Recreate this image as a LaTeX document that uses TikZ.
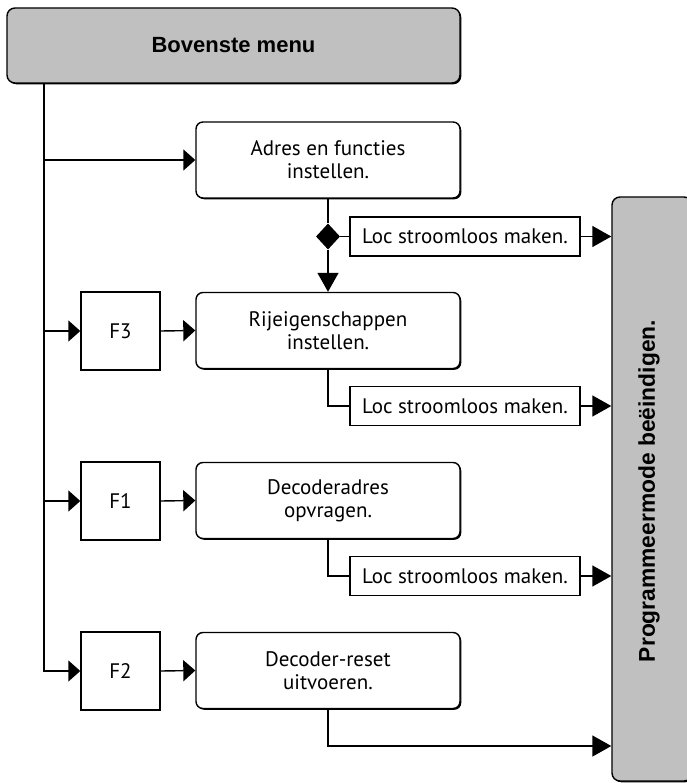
\documentclass[tikz,border=0pt]{standalone}
\usepackage{fontspec}
\setmainfont{PT Sans}
\newfontfamily\normfont{PT Sans}
\newfontfamily\arialfont{Liberation Sans}
\usetikzlibrary{arrows.meta,shadows,shapes.geometric}
\definecolor{boxgray}{HTML}{C0C0C0}
\tikzset{
  conn/.style={line width=1.4pt},
  sarr/.style={conn,-{Triangle[length=12pt,width=21pt]}},
  larr/.style={conn,-{Triangle[length=19pt,width=21pt]}},
  shad/.style={drop shadow={shadow xshift=1.3pt,shadow yshift=-1.3pt,opacity=1,fill=black}},
  rbox/.style={draw,line width=1.4pt,rounded corners=7pt,fill=white,shad,
    minimum width=264pt,minimum height=76pt,inner sep=0pt,align=center,
    font=\normfont\fontsize{21pt}{23pt}\selectfont},
  fbox/.style={draw,line width=1.4pt,fill=white,minimum width=79pt,minimum height=78pt,
    inner sep=0pt,font=\normfont\fontsize{21pt}{23pt}\selectfont},
  locbox/.style={draw,line width=1.4pt,fill=white,minimum width=230pt,minimum height=39pt,
    inner sep=0pt,font=\normfont\fontsize{21pt}{23pt}\selectfont},
  gbox/.style={draw,line width=1.4pt,rounded corners=8pt,fill=boxgray,shad,inner sep=0pt},
  btext/.style={font=\arialfont\bfseries\fontsize{22pt}{24pt}\selectfont},
  vtext/.style={font=\arialfont\bfseries\fontsize{22.8pt}{24pt}\selectfont},
}
\begin{document}
\begin{tikzpicture}[x=1pt,y=-1pt]
\useasboundingbox (0,0) rectangle (686,783);
% boxes
\node[gbox,btext,minimum width=453pt,minimum height=75pt] (top) at (233.5,45.5) {Bovenste menu};
\node[gbox,minimum width=80pt,minimum height=584pt] (prog) at (652,489) {};
\node[vtext,rotate=90] (progtxt) at (649,491) {Programmeermode beëindigen.};

\node[rbox] (adres) at (328,160) {Adres en functies\\instellen.};
\node[rbox] (rij) at (328,330.5) {Rijeigenschappen\\instellen.};
\node[rbox] (dec) at (328,500.5) {Decoderadres\\opvragen.};
\node[rbox] (res) at (328,670.5) {Decoder-reset\\uitvoeren.};

\node[fbox] (f3) at (120.5,331) {F3};
\node[fbox] (f1) at (120.5,501) {F1};
\node[fbox] (f2) at (120.5,671) {F2};

\node[locbox] (loc1) at (465,236.5) {Loc stroomloos maken.};
\node[locbox] (loc2) at (465,406) {Loc stroomloos maken.};
\node[locbox] (loc3) at (465,576) {Loc stroomloos maken.};

\node[diamond,fill=black,minimum width=24pt,minimum height=26pt,inner sep=0pt] (dia) at (328,236.5) {};

\coordinate (tk) at (44,0);
\coordinate (endy) at (0,746);

% trunk and branches
\draw[sarr] (top.south -| tk) |- (f2.west);
\draw[sarr] (adres.west -| tk) -- (adres.west);
\draw[sarr] (f3.west -| tk) -- (f3.west);
\draw[sarr] (f1.west -| tk) -- (f1.west);

\draw[sarr] (f3.east) -- (rij.west);
\draw[sarr] (f1.east) -- (dec.west);
\draw[sarr] (f2.east) -- (res.west);

% adres -> diamond -> rij
\draw[conn] (adres.south) -- (dia.north);
\draw[larr] (dia.south) -- (rij.north);
\draw[conn] (dia.east) -- (loc1.west);

\draw[conn] (rij.south) |- (loc2.west);
\draw[conn] (dec.south) |- (loc3.west);

\draw[larr] (loc1.east) -- (loc1.east -| prog.west);
\draw[larr] (loc2.east) -- (loc2.east -| prog.west);
\draw[larr] (loc3.east) -- (loc3.east -| prog.west);
\draw[larr] (res.south) |- (endy -| prog.west);
\end{tikzpicture}
\end{document}
